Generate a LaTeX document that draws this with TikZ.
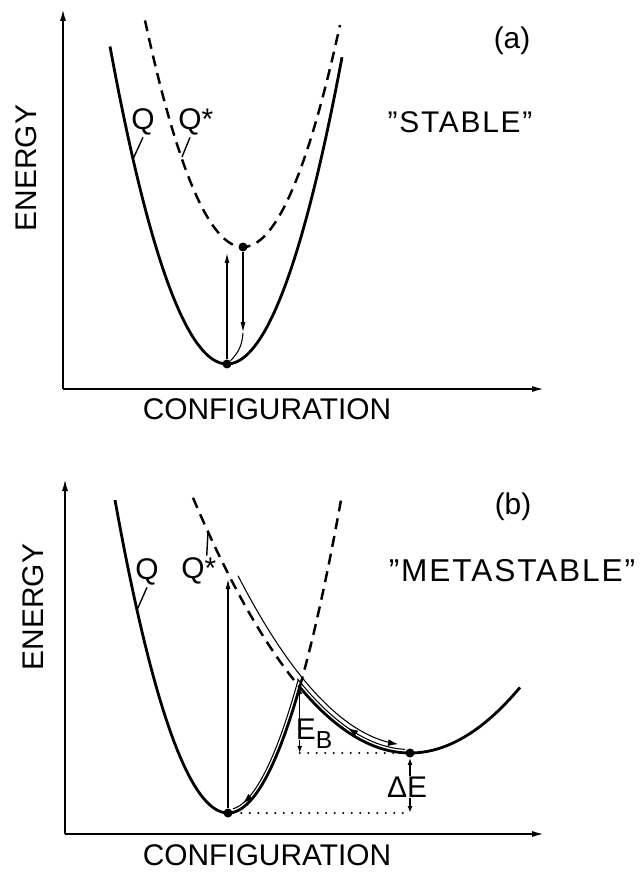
\documentclass[tikz,border=0pt]{standalone}
\usepackage{fontspec}
\setmainfont{Liberation Sans}
\usetikzlibrary{arrows.meta}

\begin{document}
\begin{tikzpicture}[
  x=0.02cm, y=-0.02cm,
  lbl/.style={font=\fontsize{17}{20}\selectfont, inner sep=1pt},
  quote/.style={lbl, font=\fontsize{17}{20}\selectfont\addfontfeatures{LetterSpace=6}},
  axisarr/.style={line width=1.2pt, -{Latex[length=0.26cm, width=0.12cm]}},
  curve/.style={line width=1.6pt},
  dashcurve/.style={line width=1.4pt, dash pattern=on 0.22cm off 0.14cm},
  vert/.style={line width=1pt, -{Latex[length=0.22cm, width=0.1cm]}},
  trail/.style={line width=0.6pt},
  trailarr/.style={trail, -{Latex[length=0.2cm, width=0.14cm]}},
  lead/.style={line width=0.8pt},
  dotline/.style={line width=1.3pt, line cap=round, dash pattern=on 0pt off 0.17cm},
  dimtip/.style={line width=0.8pt, -{Latex[length=0.14cm, width=0.1cm]}},
  dot/.style={circle, fill, inner sep=0pt, minimum size=0.18cm}
]
  \useasboundingbox (0,0) rectangle (644,874);

  % (a) stable
  \coordinate (ao) at (63,389);
  \draw[axisarr] (ao) -- (63,8);
  \draw[axisarr] (ao) -- (545,389);
  \draw[dashcurve] plot[domain=145:340, samples=60, smooth] (\x, {247-(0.1536*(\x-243))^2});
  \draw[curve] plot[domain=110:342, samples=60, smooth] (\x, {364-(0.1523*(\x-227))^2});

  \node[lbl] (tita) at (512,41) {(a)};
  \node[quote] (stab) at (460,122) {''STABLE''};
  \node[lbl] (qa) at (143,122) {Q};
  \node[lbl] (qsa) at (190,122) {Q\rlap{*}};
  \node[lbl, rotate=90] (ena) at (26,168) {ENERGY};
  \node[lbl] (cfa) at (267,409) {CONFIGURATION};

  \coordinate (qaend) at (133,159);
  \coordinate (qsaend) at (182,157);
  \draw[lead] (qa.south) -- (qaend);
  \draw[lead] (qsa.south) -- (qsaend);

  \node[dot] (amin) at (227,364) {};
  \node[dot] (aexc) at (243,247) {};
  \coordinate (aup) at (227,252);
  \coordinate (adown) at (243,333);
  \draw[vert] (amin) -- (aup);
  \draw[vert, line width=0.8pt] (aexc) -- (adown);
  \draw[trail] (adown) to[bend left=20] (amin);

  % (b) metastable
  \coordinate (bo) at (65,834);
  \draw[axisarr] (bo) -- (65,478);
  \draw[axisarr] (bo) -- (545,834);
  \draw[dashcurve] plot[domain=299.7:342, samples=20, smooth] (\x, {813-(0.15656*(\x-228))^2});
  \draw[dashcurve] plot[domain=193:299.7, samples=40, smooth] (\x, {753-(0.07362*(\x-410))^2});
  \draw[curve] plot[domain=115:299.7, samples=60, smooth] (\x, {813-(0.15656*(\x-228))^2});
  \draw[curve] plot[domain=299.7:520, samples=60, smooth] (\x, {753-(0.07362*(\x-410))^2});
  \coordinate (peak) at (299.7,687);

  \draw[trailarr]
    plot[domain=238:398, samples=50, smooth] (\x, {753-(0.07362*(\x-410))^2-8*sqrt(1+(0.01084*(\x-410))^2)});
  \draw[trailarr]
    plot[domain=405:348, samples=20, smooth] (\x, {753-(0.07362*(\x-410))^2-3.5*sqrt(1+(0.01084*(\x-410))^2)});
  \draw[trailarr]
    plot[domain=350:298, samples=20, smooth] (\x, {753-(0.07362*(\x-410))^2-3.5*sqrt(1+(0.01084*(\x-410))^2)})
    -- plot[domain=298:243, samples=30, smooth] (\x, {813-(0.15656*(\x-228))^2-3.5*sqrt(1+(0.04902*(\x-228))^2)});
  \draw[trail]
    plot[domain=245:233, samples=8, smooth] (\x, {813-(0.15656*(\x-228))^2-3.5*sqrt(1+(0.04902*(\x-228))^2)});

  \node[lbl] (titb) at (513,507) {(b)};
  \node[quote, font=\fontsize{18}{20}\selectfont\addfontfeatures{LetterSpace=6}] (mstab) at (512,571) {''METASTABLE''};
  \node[lbl] (qb) at (147,572) {Q};
  \node[lbl] (qsb) at (193,571) {Q\rlap{*}};
  \node[lbl, rotate=90] (enb) at (33,607) {ENERGY};
  \node[lbl] (cfb) at (267,855) {CONFIGURATION};

  \coordinate (qbend) at (137,610);
  \coordinate (qsbend) at (208,532);
  \draw[lead] (qb.south) -- (qbend);
  \draw[lead] (qsb.north east) -- (qsbend);

  \node[dot] (ground) at (228,813) {};
  \node[dot] (meta) at (410,753) {};
  \coordinate (bup) at (228,578);
  \draw[vert] (ground) -- (bup);

  \draw[dotline] (peak |- meta) -- (meta);
  \draw[dotline] (ground) -- (meta |- ground);

  \node[lbl, inner sep=0pt] (eb) at (314,734) {E\raisebox{-0.3em}{\fontsize{14}{16}\selectfont B}};
  \coordinate (ebfoot) at (peak |- eb.base);
  \draw[dimtip] (peak |- eb.north) -- (peak);
  \draw[dimtip] (ebfoot) -- (peak |- meta);

  \node[lbl, inner sep=0pt] (de) at (407,787) {ΔE};
  \coordinate (defoot) at (meta |- de.south);
  \draw[dimtip] (meta |- de.north) -- (meta);
  \draw[dimtip] (defoot) -- (meta |- ground);
\end{tikzpicture}
\end{document}
